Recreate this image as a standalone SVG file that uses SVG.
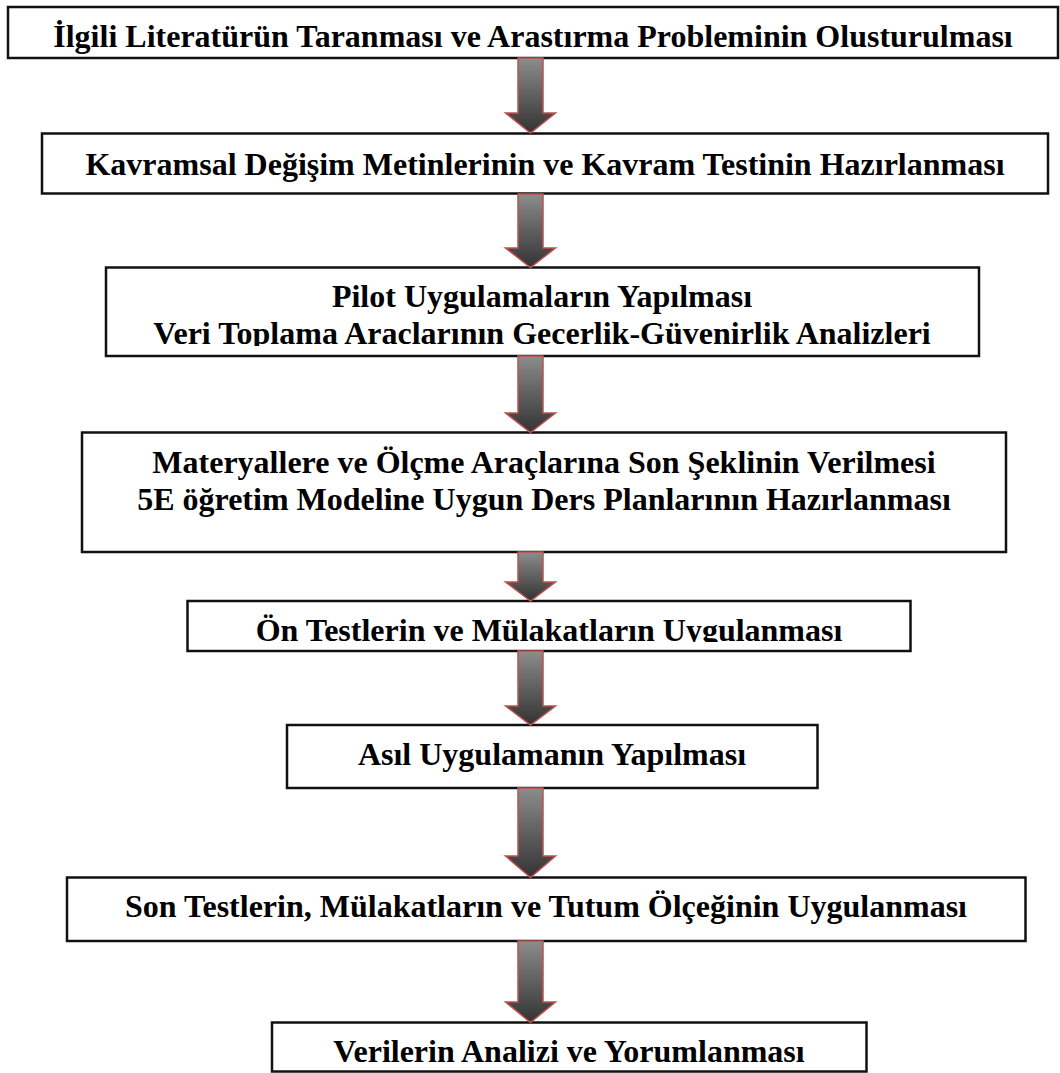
<svg xmlns="http://www.w3.org/2000/svg" width="1060" height="1073" viewBox="0 0 1060 1073">
<style>
.box{fill:#fff;stroke:#111;stroke-width:2.5}
.t{font-family:"Liberation Serif","Times New Roman",serif;font-weight:bold;font-size:32px;fill:#000;text-anchor:middle}
.arr{fill:url(#ag);stroke:#c0504d;stroke-width:1.5;stroke-linejoin:miter}
</style>
<defs>
<linearGradient id="ag" x1="0" y1="0" x2="0" y2="1">
<stop offset="0" stop-color="#8c8c8c"/>
<stop offset="1" stop-color="#333"/>
</linearGradient>
<clipPath id="c3"><rect x="106" y="268" width="873" height="78"/></clipPath>
<clipPath id="c5"><rect x="188" y="601" width="722" height="41"/></clipPath>
</defs>
<rect width="1060" height="1073" fill="#fff"/>
<g id="n1"><rect class="box" x="8" y="7" width="1050" height="51"/><text class="t" x="533" y="46.5">İlgili Literatürün Taranması ve Arastırma Probleminin Olusturulması</text></g>
<g id="n2"><rect class="box" x="42" y="133.5" width="1006" height="60"/><text class="t" x="545" y="174.5">Kavramsal Değişim Metinlerinin ve Kavram Testinin Hazırlanması</text></g>
<g id="n3"><rect class="box" x="106" y="267.5" width="873" height="88.5"/><g clip-path="url(#c3)"><text class="t" x="542" y="307">Pilot Uygulamaların Yapılması</text><text class="t" x="542" y="344">Veri Toplama Araclarının Gecerlik-Güvenirlik Analizleri</text></g></g>
<g id="n4"><rect class="box" x="82" y="432.5" width="924" height="119.5"/><text class="t" x="544" y="473">Materyallere ve Ölçme Araçlarına Son Şeklinin Verilmesi</text><text class="t" x="544" y="510">5E öğretim Modeline Uygun Ders Planlarının Hazırlanması</text></g>
<g id="n5"><rect class="box" x="187.5" y="601" width="723" height="50"/><g clip-path="url(#c5)"><text class="t" x="549" y="640.7">Ön Testlerin ve Mülakatların Uygulanması</text></g></g>
<g id="n6"><rect class="box" x="287" y="725" width="530.5" height="63"/><text class="t" x="552" y="765">Asıl Uygulamanın Yapılması</text></g>
<g id="n7"><rect class="box" x="67" y="877.5" width="958.5" height="63.5"/><text class="t" x="546" y="917">Son Testlerin, Mülakatların ve Tutum Ölçeğinin Uygulanması</text></g>
<g id="n8"><rect class="box" x="272" y="1022.5" width="594.5" height="49"/><text class="t" x="569" y="1061.7">Verilerin Analizi ve Yorumlanması</text></g>
<g id="connectors">
<path class="arr" d="M518,58 H543 V113 H555.5 L530.5,133 L505.5,113 H518 Z"/>
<path class="arr" d="M518,194 H543 V248 H555.5 L530.5,267.5 L505.5,248 H518 Z"/>
<path class="arr" d="M518,356 H543 V413 H555.5 L530.5,432.5 L505.5,413 H518 Z"/>
<path class="arr" d="M518,552 H543 V582 H555.5 L530.5,601 L505.5,582 H518 Z"/>
<path class="arr" d="M518,651 H543 V706 H555.5 L530.5,725 L505.5,706 H518 Z"/>
<path class="arr" d="M518,788 H543 V856 H555.5 L530.5,877.5 L505.5,856 H518 Z"/>
<path class="arr" d="M518,941 H543 V1002 H555.5 L530.5,1022.5 L505.5,1002 H518 Z"/>
</g>
</svg>
